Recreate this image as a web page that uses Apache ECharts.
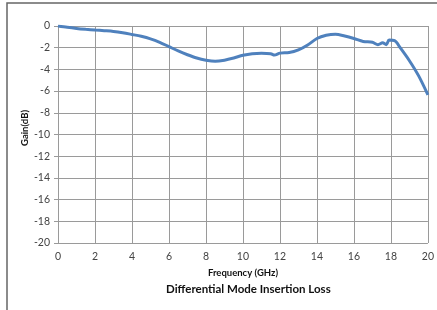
<!DOCTYPE html>
<html>
<head>
<meta charset="utf-8">
<script src="https://cdn.jsdelivr.net/npm/echarts@6/dist/echarts.min.js"></script>
<style>
  html, body { margin: 0; padding: 0; background: #fff; }
  #root { width: 437px; height: 310px; }
</style>
</head>
<body>
<div id="root"></div>
<script>
// frequency in GHz and insertion loss in dB
const freq = [0, 0.5, 1, 1.5, 2, 2.5, 3, 3.5, 4, 4.5, 5, 5.5, 6, 6.5, 7, 7.5, 8, 8.5, 9, 9.5,
  10, 10.5, 11, 11.5, 11.7, 12, 12.5, 13, 13.5, 14, 14.5, 15, 15.5, 16, 16.5, 17, 17.3,
  17.55, 17.75, 17.9, 18.2, 18.5, 19, 19.5, 20]
const gain = [0, -0.12, -0.22, -0.3, -0.37, -0.43, -0.5, -0.62, -0.78, -0.95, -1.18, -1.5, -1.9,
  -2.3, -2.65, -2.95, -3.15, -3.25, -3.15, -2.95, -2.7, -2.55, -2.5, -2.55, -2.68, -2.5, -2.45,
  -2.2, -1.75, -1.15, -0.85, -0.75, -0.92, -1.15, -1.42, -1.5, -1.72, -1.55, -1.72, -1.3,
  -1.35, -2.0, -3.2, -4.6, -6.35]

const chart = echarts.init(document.getElementById('root'))
const font = 'Lato, "Noto Sans", sans-serif'

chart.setOption({
  animation: false,
  title: {
    text: 'Differential Mode Insertion Loss',
    left: 161,
    top: 278,
    textStyle: { fontFamily: font, fontSize: 11.5, fontWeight: 'bold', color: '#111' }
  },
  graphic: [{
    type: 'rect',
    shape: { x: 7, y: 3, width: 500, height: 400 },
    style: { fill: 'none', stroke: '#666', lineWidth: 1.5 },
    silent: true
  }],
  grid: { left: 58, right: 6, top: 26, bottom: 67 },
  xAxis: {
    type: 'value',
    min: 0, max: 20, interval: 2,
    name: 'Frequency (GHz)',
    nameLocation: 'middle',
    nameGap: 25,
    nameMoveOverlap: false,
    nameTextStyle: { fontFamily: font, fontSize: 9.5, fontWeight: 'bold', color: '#111' },
    axisLine: { show: true, lineStyle: { color: '#9a9a9a' } },
    axisTick: { show: true, length: 4, lineStyle: { color: '#9a9a9a' } },
    splitLine: { show: true, lineStyle: { color: '#9a9a9a' } },
    axisLabel: { fontFamily: font, fontSize: 10.5, color: '#444', margin: 8 }
  },
  yAxis: {
    type: 'value',
    min: -20, max: 0, interval: 2,
    name: 'Gain(dB)',
    nameLocation: 'middle',
    nameGap: 28,
    nameMoveOverlap: false,
    nameTextStyle: { fontFamily: font, fontSize: 9.5, fontWeight: 'bold', color: '#111', padding: [0, 0, 0, 13] },
    axisLine: { show: true, lineStyle: { color: '#9a9a9a' } },
    axisTick: { show: true, length: 4, lineStyle: { color: '#9a9a9a' } },
    splitLine: { show: true, lineStyle: { color: '#9a9a9a' } },
    axisLabel: { fontFamily: font, fontSize: 10.5, color: '#444', margin: 8 }
  },
  series: [{
    type: 'line',
    data: freq.map((f, i) => [f, gain[i]]),
    showSymbol: false,
    smooth: 0.3,
    lineStyle: { color: '#4f81bd', width: 3 }
  }]
})
</script>
</body>
</html>
